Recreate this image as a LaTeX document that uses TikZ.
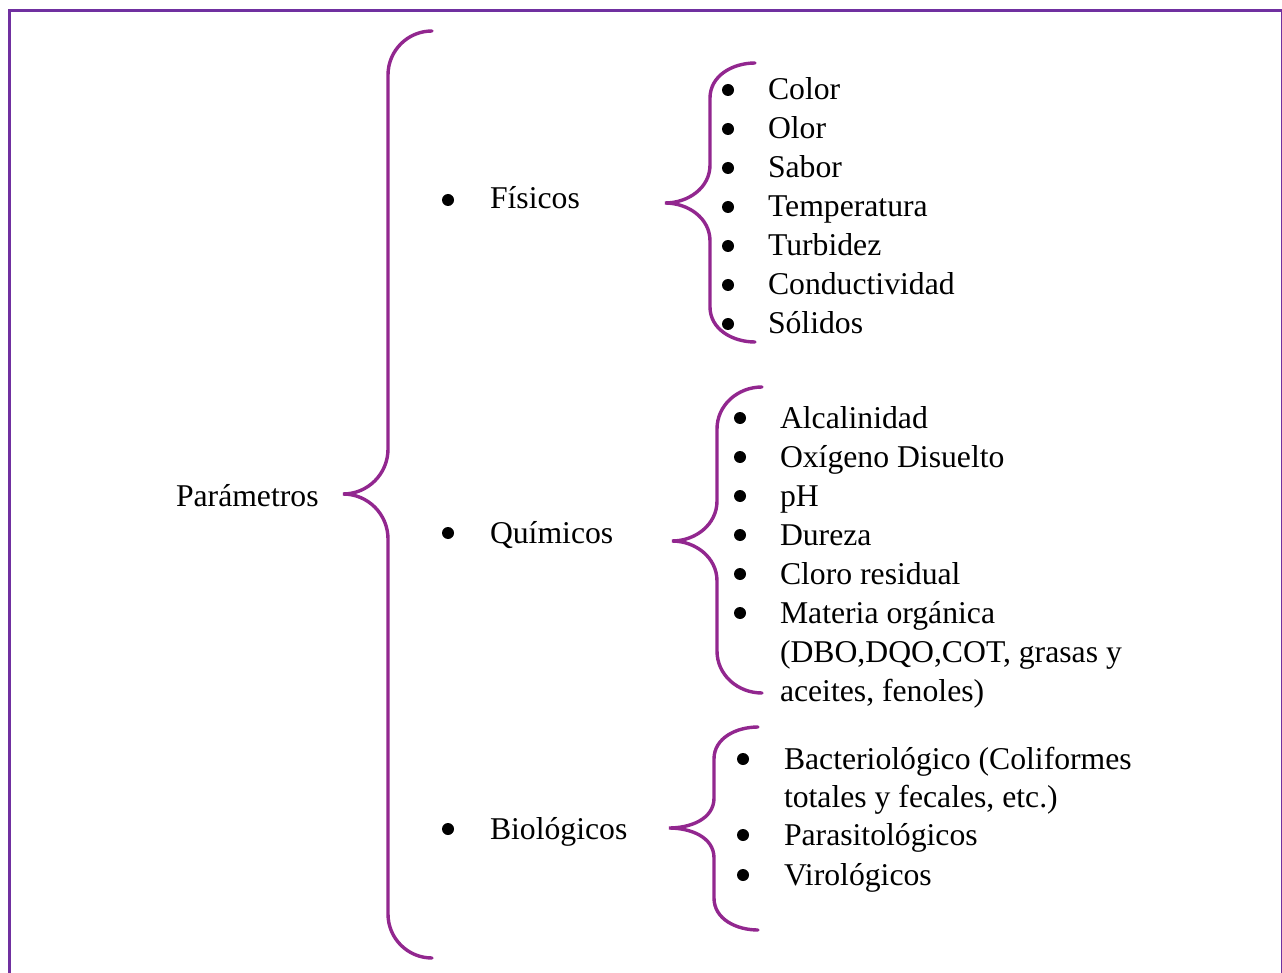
\documentclass[tikz,border=0pt]{standalone}
\usepackage{fontspec}
\setmainfont{Liberation Serif}
\definecolor{framepurple}{RGB}{112,48,160}
\definecolor{bracepurple}{RGB}{146,39,143}
\tikzset{
  frameline/.style={draw=framepurple, line width=3pt},
  braceline/.style={draw=bracepurple, line width=3.4pt, line cap=round},
  item/.style={anchor=base west, inner sep=0pt, outer sep=0pt,
    font=\fontsize{31.7}{39}\selectfont},
  dot/.style={fill=black}
}
% curly brace: end x, spine x, tip x, top y, middle y, bottom y, end curve height, tip curve height
\newcommand\curlybrace[8]{%
  \draw[braceline] (#1,-#4) to[out=180,in=90] (#2,-#4-#7)
    -- (#2,-#5+#8) to[out=-90,in=0] (#3,-#5)
    to[out=0,in=90] (#2,-#5-#8) -- (#2,-#6+#7)
    to[out=-90,in=180] (#1,-#6);}
\begin{document}
\begin{tikzpicture}[x=1pt,y=1pt]
\useasboundingbox (0,0) rectangle (1282,-973);
\clip (0,0) rectangle (1282,-973);
\fill[white] (0,0) rectangle (1282,-973);
% frame
\draw[frameline] (9.5,-995) -- (9.5,-10.5) -- (1282.5,-10.5) -- (1282.5,-995);

% braces
\curlybrace{432}{388}{343}{31}{494}{958}{44}{45}
\curlybrace{755}{710}{665}{63}{203}{342}{35}{38}
\curlybrace{762}{717}{672}{387}{541}{693}{42}{40}
\curlybrace{758}{714}{669}{727}{828}{930}{32}{30}

% root
\node[item] (param) at (176,-506) {Parámetros};

% categories
\node[item] (fis) at (490,-209) {Físicos};
\node[item] (qui) at (490,-543) {Químicos};
\node[item] (bio) at (490,-839) {Biológicos};
\foreach \y in {200,533,829} \fill[dot] (448,-\y) circle (6);

% physical parameters
\foreach \n/\t/\y in {c1/Color/100, c2/Olor/139, c3/Sabor/178, c4/Temperatura/217,
    c5/Turbidez/256, c6/Conductividad/295, c7/Sólidos/334} {
  \node[item] (\n) at (768,-\y) {\t};
  \fill[dot] (728,-\y+10) circle (6);
}

% chemical parameters
\foreach \n/\t/\y in {q1/Alcalinidad/428, q2/Oxígeno Disuelto/467, q3/pH/506,
    q4/Dureza/545, q5/Cloro residual/584, q6/Materia orgánica/623} {
  \node[item] (\n) at (780,-\y) {\t};
  \fill[dot] (740,-\y+10) circle (6);
}
\node[item] (q7) at (780,-662) {(DBO,DQO,COT, grasas y};
\node[item] (q8) at (780,-701) {aceites, fenoles)};

% biological parameters
\node[item] (b1) at (784,-769) {Bacteriológico (Coliformes};
\node[item] (b2) at (784,-807) {totales y fecales, etc.)};
\node[item] (b3) at (784,-845) {Parasitológicos};
\node[item] (b4) at (784,-885) {Virológicos};
\foreach \y in {769,845,885} \fill[dot] (743,-\y+10) circle (6);
\end{tikzpicture}
\end{document}
